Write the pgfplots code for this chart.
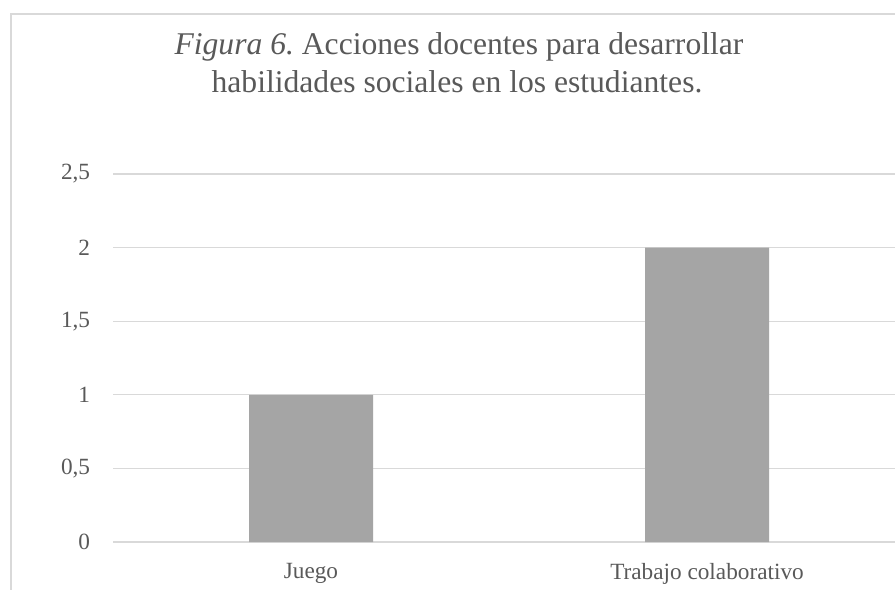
\documentclass[border=0pt]{standalone}
\usepackage{fontspec}
\setmainfont{Liberation Serif}
\usepackage{pgfplots}
\pgfplotsset{compat=1.18}
\definecolor{txt}{HTML}{595959}
\definecolor{gridc}{HTML}{D9D9D9}
\definecolor{barc}{HTML}{A5A5A5}
\begin{document}
% 1 unit = 1 px of the reference, origin at top-left
\begin{tikzpicture}[x=0.75bp,y=0.75bp]
\useasboundingbox (0,0) rectangle (895,-590);
\clip (0,0) rectangle (895,-590);
\fill[white] (0,0) rectangle (895,-590);
\draw[gridc, line width=1.1bp] (11,-14) rectangle (920,-620);
\node[anchor=base, text=txt, font=\fontsize{23.8}{28}\selectfont] at (459,-54)
  {\textit{Figura 6.}\ Acciones docentes para desarrollar};
\node[anchor=base, text=txt, font=\fontsize{23.8}{28}\selectfont] at (457,-92)
  {habilidades sociales en los estudiantes.};
\coordinate (O) at (113,-542);
\begin{axis}[
  at={(O)}, anchor=south west,
  scale only axis,
  width=594bp, height=276bp,
  xmin=-0.5, xmax=1.5,
  ymin=0, ymax=2.5,
  ytick={0,0.5,1,1.5,2,2.5},
  xtick={0,1},
  xticklabels={Juego,Trabajo colaborativo},
  ymajorgrids,
  grid style={gridc, line width=0.9bp},
  axis line style={draw=none},
  major tick length=0pt,
  tick label style={text=txt, font=\fontsize{17.5}{21}\selectfont},
  /pgf/number format/assume math mode=true,
  /pgf/number format/use comma,
  yticklabel style={anchor=east, inner sep=0pt, xshift=-17bp},
  xticklabel style={anchor=north, inner sep=0pt, yshift=-16bp},
  clip=false,
]
\addplot[ybar, bar width=93bp, fill=barc, draw=none] coordinates {(0,1) (1,2)};
\end{axis}
\end{tikzpicture}
\end{document}
